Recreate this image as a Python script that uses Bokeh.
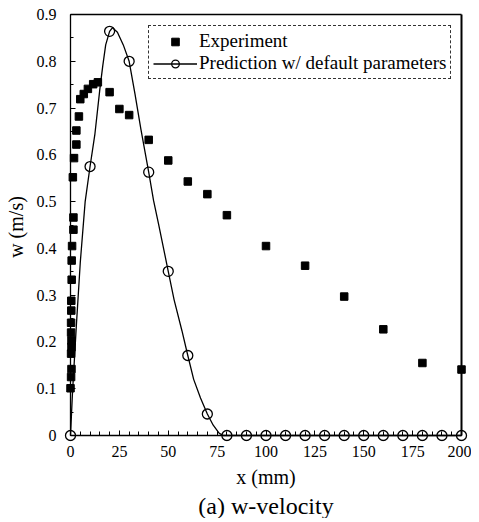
from bokeh.plotting import figure
from bokeh.models import (LinearAxis, FixedTicker, Range1d, Legend, LegendItem, Title,
                          CustomJSTickFormatter)
from bokeh.embed import file_html
from bokeh.resources import INLINE

# ---------------- data ----------------
exp_x = [0.0, 0.3, 0.5, 0.3, 0.5, 0.5, 0.3, 0.3, 0.4, 0.4, 0.6, 0.6, 0.8, 1.5, 1.5,
         1.2, 1.8, 3.0, 3.0, 4.3, 5.0, 6.8, 8.9, 11.6, 14.0,
         20, 25, 30, 40, 50, 60, 70, 80, 100, 120, 140, 160, 180, 200]
exp_w = [0.101, 0.125, 0.142, 0.175, 0.189, 0.203, 0.220, 0.241, 0.267, 0.288, 0.333,
         0.374, 0.405, 0.440, 0.466, 0.552, 0.593, 0.622, 0.652, 0.682, 0.719, 0.730,
         0.741, 0.751, 0.755,
         0.734, 0.698, 0.685, 0.632, 0.588, 0.543, 0.516, 0.471, 0.405, 0.363, 0.297,
         0.227, 0.155, 0.141]

pred_x = [0, 10, 20, 30, 40, 50, 60, 70, 80, 90, 100, 110, 120, 130, 140, 150,
          160, 170, 180, 190, 200]
pred_w = [0.0, 0.575, 0.864, 0.800, 0.563, 0.351, 0.171, 0.046, 0.0, 0.0, 0.0, 0.0,
          0.0, 0.0, 0.0, 0.0, 0.0, 0.0, 0.0, 0.0, 0.0]

curve_x = [0, 1, 3, 5, 7.5, 10, 12.5, 15, 16.5, 18, 20, 21.5, 24, 27, 30, 33, 36,
           40, 42.5, 45, 50, 53, 57, 60, 63, 66.5, 70, 73, 76, 78, 80, 200]
curve_w = [0.0, 0.09, 0.235, 0.37, 0.50, 0.575, 0.645, 0.74, 0.79, 0.835, 0.864,
           0.872, 0.862, 0.835, 0.800, 0.73, 0.655, 0.563, 0.502, 0.453, 0.351, 0.29,
           0.224, 0.171, 0.12, 0.08, 0.046, 0.022, 0.005, 0.0, 0.0, 0.0]

x_ticks = [0, 25, 50, 75, 100, 125, 150, 175, 200]
y_ticks = [0, 0.1, 0.2, 0.3, 0.4, 0.5, 0.6, 0.7, 0.8, 0.9]
x_minor = list(range(0, 201, 5))
y_minor = [i * 0.05 for i in range(19)]

# ---------------- layout ----------------
FONT = "Liberation Serif"
px_x = 391 / 200.0     # px per mm
px_y = 421 / 0.9       # px per m/s
PL, PR, PB, PT = 8, 8, 6, 2   # frame padding (px) around the axes box
pad_l = PL / px_x
pad_r = PR / px_x
pad_b = PB / px_y
pad_t = PT / px_y

p = figure(frame_width=391 + PL + PR, frame_height=421 + PB + PT,
           x_range=Range1d(-pad_l, 200 + pad_r),
           y_range=Range1d(-pad_b, 0.9 + pad_t),
           x_axis_type=None, y_axis_type=None,
           output_backend="svg", toolbar_location=None,
           min_border_left=70 - PL, min_border_right=2,
           min_border_top=14 - PT, min_border_bottom=0)
p.outline_line_color = None
p.background_fill_color = "white"
p.border_fill_color = "white"

blank = CustomJSTickFormatter(code="return ''")


def line_axis(ax, tick_in, minor_in, width):
    ax.axis_line_color = "black"
    ax.axis_line_width = width
    ax.major_tick_in = tick_in
    ax.major_tick_out = 0
    ax.minor_tick_in = minor_in
    ax.minor_tick_out = 0
    ax.major_tick_line_color = "black"
    ax.minor_tick_line_color = "black"
    ax.major_label_text_font_size = "0px"
    ax.formatter = blank


def label_axis(ax):
    ax.axis_line_color = None
    ax.major_tick_line_color = None
    ax.minor_tick_line_color = None
    ax.major_tick_in = 0
    ax.major_tick_out = 0
    ax.minor_tick_in = 0
    ax.minor_tick_out = 0
    ax.major_label_text_font = FONT
    ax.major_label_text_font_size = "16px"
    ax.major_label_text_color = "black"
    ax.axis_label_text_font = FONT
    ax.axis_label_text_font_size = "20px"
    ax.axis_label_text_font_style = "normal"
    ax.axis_label_text_color = "black"


# axis lines and ticks, drawn at the data zero / limits
xline = LinearAxis(fixed_location=0, bounds=(0, 200),
                   ticker=FixedTicker(ticks=x_ticks, minor_ticks=x_minor))
line_axis(xline, 5, 4, 1.5)
p.add_layout(xline, "below")

yline = LinearAxis(fixed_location=0, bounds=(0, 0.9),
                   ticker=FixedTicker(ticks=y_ticks, minor_ticks=y_minor))
line_axis(yline, 5, 3, 1.3)
p.add_layout(yline, "left")

topline = LinearAxis(fixed_location=0.9, bounds=(0, 200), ticker=FixedTicker(ticks=[]))
line_axis(topline, 0, 0, 1.5)
p.add_layout(topline, "above")

rightline = LinearAxis(fixed_location=200, bounds=(0, 0.9), ticker=FixedTicker(ticks=[]))
line_axis(rightline, 0, 0, 2)
p.add_layout(rightline, "right")

# axes carrying the tick labels and titles
xlab = LinearAxis(bounds=(0, 200), ticker=FixedTicker(ticks=x_ticks),
                  axis_label="x (mm)")
label_axis(xlab)
xlab.major_label_standoff = 4
xlab.axis_label_standoff = 6
p.add_layout(xlab, "below")

ylab = LinearAxis(bounds=(0, 0.9), ticker=FixedTicker(ticks=y_ticks),
                  axis_label="w (m/s)")
label_axis(ylab)
ylab.major_label_standoff = 6
ylab.axis_label_standoff = 7
p.add_layout(ylab, "left")

# ---------------- glyphs ----------------
r_line = p.line(curve_x, curve_w, line_color="black", line_width=1.3)
r_circ = p.scatter(pred_x, pred_w, marker="circle", size=10, fill_color=None,
                   line_color="black", line_width=1.3)
r_sq = p.scatter(exp_x, exp_w, marker="square", size=7.5, fill_color="black",
                 line_color="black")

legend = Legend(items=[LegendItem(label="Experiment", renderers=[r_sq]),
                       LegendItem(label="Prediction w/ default parameters",
                                  renderers=[r_line, r_circ])],
                location=(78 + PL, 421 + PB - 64 - 1))
legend.label_text_font = FONT
legend.label_text_font_size = "19px"
legend.label_text_color = "black"
legend.glyph_width = 44
legend.glyph_height = 19
legend.label_height = 19
legend.label_standoff = 2
legend.spacing = 0
legend.padding = 4
legend.margin = 0
legend.border_line_color = "black"
legend.border_line_width = 1
legend.border_line_dash = "1 2"
legend.border_line_alpha = 0.8
legend.background_fill_color = "white"
legend.background_fill_alpha = 1.0
p.add_layout(legend)

caption = Title(text="(a) w-velocity", align="center", text_font=FONT,
                text_font_size="24px", text_font_style="normal",
                text_color="black", standoff=0)
p.add_layout(caption, "below")

open("out.html", "w").write(file_html(p, INLINE))
